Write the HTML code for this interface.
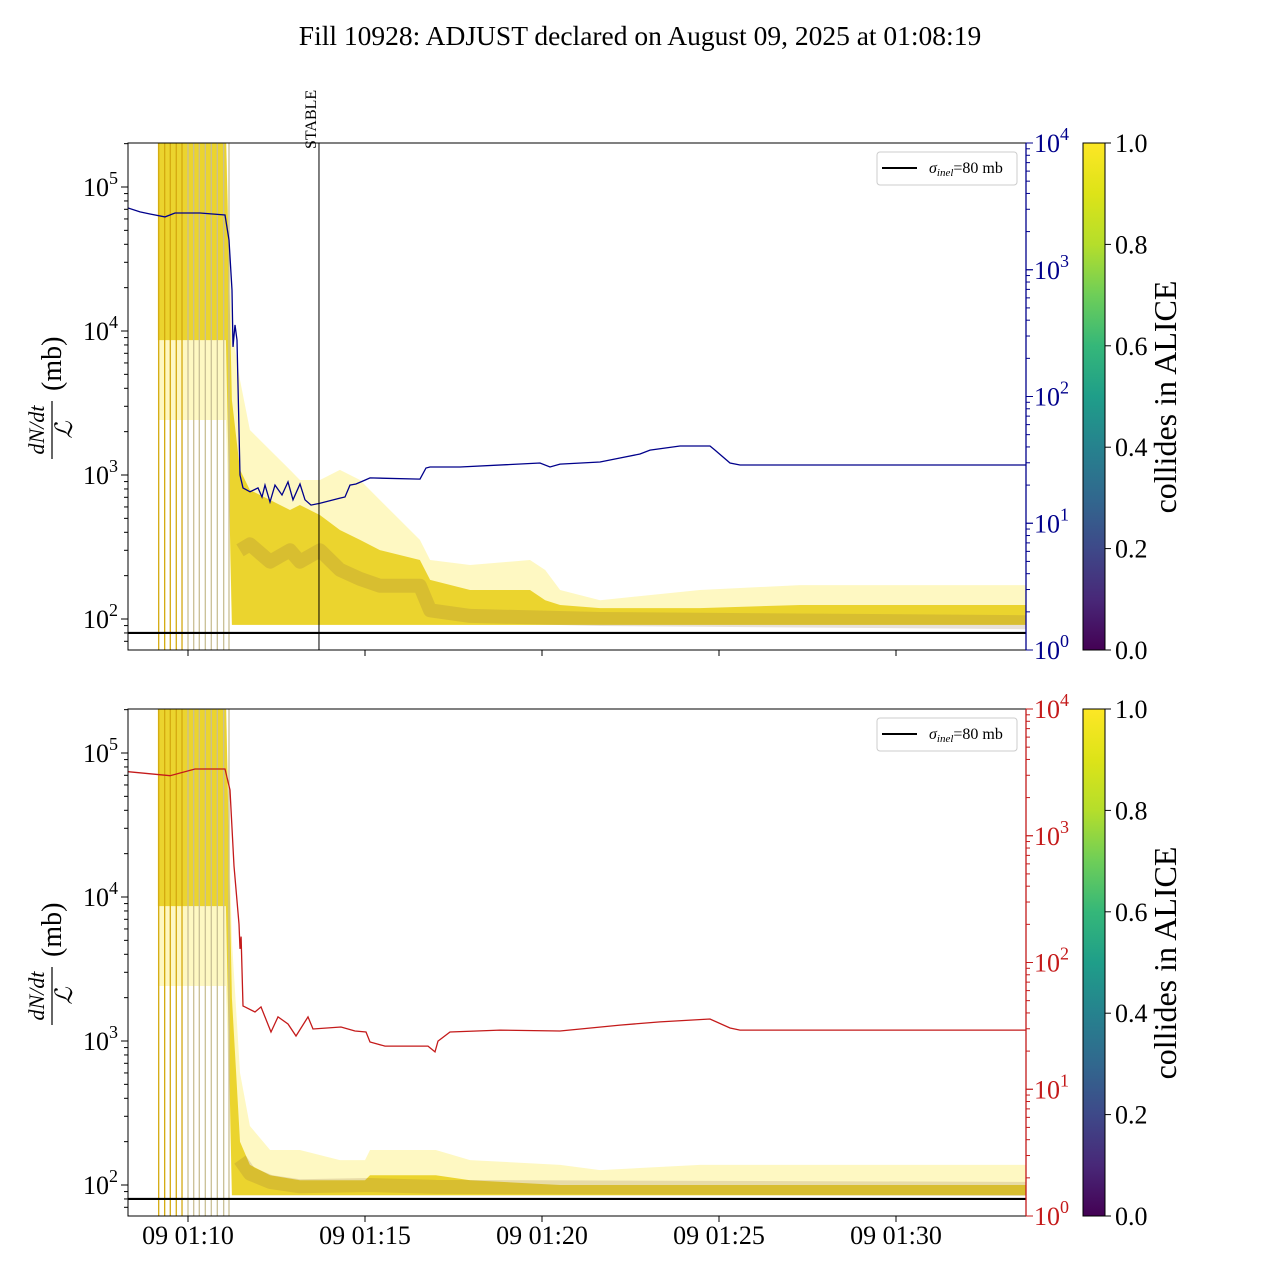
<!DOCTYPE html>
<html><head><meta charset="utf-8"><style>
body{margin:0;background:#fff}
svg{display:block;font-family:"Liberation Serif","DejaVu Serif",serif}
</style></head><body>
<svg id="chart" width="1280" height="1280" viewBox="0 0 1280 1280" xmlns="http://www.w3.org/2000/svg">
<defs>
<linearGradient id="viridis" x1="0" y1="1" x2="0" y2="0">
<stop offset="0" stop-color="#440154"/><stop offset="0.1" stop-color="#482878"/><stop offset="0.2" stop-color="#3e4989"/><stop offset="0.3" stop-color="#31688e"/><stop offset="0.4" stop-color="#26828e"/><stop offset="0.5" stop-color="#1f9e89"/><stop offset="0.6" stop-color="#35b779"/><stop offset="0.7" stop-color="#6ece58"/><stop offset="0.8" stop-color="#b5de2b"/><stop offset="0.9" stop-color="#dde318"/><stop offset="1" stop-color="#fde725"/>
</linearGradient>
<clipPath id="clip0"><rect x="128" y="143" width="898" height="507"/></clipPath>
<clipPath id="clip1"><rect x="128" y="709" width="898" height="507"/></clipPath>
</defs>
<text x="640" y="45" font-size="27.5" text-anchor="middle">Fill 10928: ADJUST declared on August 09, 2025 at 01:08:19</text>
<g id="root"></g>
</svg>
<script>
// ---- data (time = minutes after 01:00) ----
const xTickTimes = [10, 15, 20, 25, 30];
const xTickLabels = ["09 01:10", "09 01:15", "09 01:20", "09 01:25", "09 01:30"];
const leftTickExps = [2, 3, 4, 5];
const rightTickExps = [0, 1, 2, 3, 4];
const cbTicks = [0, 0.2, 0.4, 0.6, 0.8, 1.0];
const cbTickLabels = ["0.0", "0.2", "0.4", "0.6", "0.8", "1.0"];
const sigmaInel = 80;
const stableTime = 13.70;
const bunchLineTimes = [9.172, 9.341, 9.500, 9.669, 9.831, 10.0, 10.161, 10.319, 10.489, 10.658, 10.828, 11.008, 11.158];

// top panel right-axis series (blue)
const blueTimes = [8.305,8.644,8.927,9.350,9.633,10.339,11.045,11.158,11.243,11.271,11.328,11.384,11.469,11.554,11.751,11.977,12.090,12.175,12.316,12.458,12.655,12.825,12.966,13.164,13.305,13.475,13.729,14.294,14.435,14.576,14.746,15.0,15.141,16.554,16.723,16.836,17.684,19.944,20.226,20.508,21.638,22.203,22.768,23.051,23.898,24.746,24.887,25.311,25.593,33.672];
const blueValues = [3070,2860,2755,2610,2805,2805,2705,1718,692,246,367,279,24.0,19.0,17.7,19.0,16.1,20.0,14.7,20.0,16.7,21.2,15.3,20.4,15.3,13.9,14.4,15.8,16.1,20.0,20.4,21.9,22.8,22.3,27.3,27.8,27.8,29.9,27.8,29.3,30.4,32.7,35.2,37.8,40.7,40.7,37.8,29.9,28.8,28.8];

// bottom panel right-axis series (red)
const redTimes = [8.305,9.492,10.198,11.045,11.186,11.299,11.441,11.469,11.500,11.554,11.610,11.893,12.062,12.345,12.542,12.825,13.051,13.390,13.531,14.322,14.718,15.028,15.141,15.565,16.780,16.977,17.062,17.401,18.814,20.508,22.203,23.333,24.746,25.311,25.593,33.672];
const redValues = [3200,2975,3365,3365,2295,577,201,128,160,45.4,44.6,40.7,44.6,28.3,37.2,32.7,26.3,37.2,29.9,31.0,28.8,28.3,23.6,21.9,21.9,19.7,24.0,28.3,29.3,28.8,32.1,34.0,35.8,30.4,29.3,29.3];

// rate-per-luminosity envelopes (left axis), top panel
const topBandTimes = [9.15,11.07,11.24,11.47,11.75,12.32,12.88,13.16,13.73,14.29,14.86,15.42,16.55,16.84,17.97,19.66,20.09,20.51,21.64,24.46,27.29,33.67];
const topUpper   = [250000,250000,10170,4570,2055,1490,1085,923,923,1085,923,670,354,257,237,257,219,159,135,159,172,172];
const topDenseHi = [250000,250000,3320,1085,787,670,571,619,527,415,354,301,257,187,159,159,135,125,119,119,125,125];
const topDenseLo = [8650,8650,91,91,91,91,91,91,91,91,91,91,91,91,91,91,91,91,91,91,91,91];
const topLower   = [2410,2410,91,91,91,91,91,91,91,91,91,91,91,91,91,91,91,91,91,91,91,91];
const topMedianTimes = [11.47,11.75,12.32,12.88,13.16,13.73,14.29,14.86,15.42,16.55,16.84,17.97,21.64,33.67];
const topMedian = [300,330,250,300,250,300,220,190,170,170,115,105,100,95];

// bottom panel
const botBandTimes = [9.15,11.07,11.24,11.47,11.75,12.32,13.16,14.29,15.0,15.14,17.0,17.97,20.51,21.64,24.46,33.67];
const botUpper   = [250000,250000,5000,600,257,175,175,149,149,175,175,149,138,127,138,138];
const botDenseHi = [250000,250000,2000,200,138,117,108,108,108,117,117,108,100,100,100,100];
const botDenseLo = [8650,8650,85,85,85,85,85,85,85,85,85,85,85,85,85,85];
const botLower   = [2410,2410,85,85,85,85,85,85,85,85,85,85,85,85,85,85];
const botMedianTimes = [11.47,11.75,12.32,13.16,15.14,17.0,33.67];
const botMedian = [150,120,105,98,100,97,94];

// ---- drawing ----
const NS = "http://www.w3.org/2000/svg";
const root = document.getElementById("root");
function mk(tag, attrs, parent) {
  const e = document.createElementNS(NS, tag);
  for (const k in attrs) e.setAttribute(k, attrs[k]);
  (parent || root).appendChild(e);
  return e;
}
const xPx = t => 188 + (t - 10) * 35.4;
const X0 = 128, X1 = 1026;

const panels = [
  {top:143, bot:650, rc:"#00008b", times:blueTimes, vals:blueValues,
   bt:topBandTimes, up:topUpper, dh:topDenseHi, dl:topDenseLo, lo:topLower, mt:topMedianTimes, md:topMedian, name:"top"},
  {top:709, bot:1216, rc:"#c41a1a", times:redTimes, vals:redValues,
   bt:botBandTimes, up:botUpper, dh:botDenseHi, dl:botDenseLo, lo:botLower, mt:botMedianTimes, md:botMedian, name:"bottom"}
];

panels.forEach((p, i) => {
  const yL = v => p.top + 44 + (5 - Math.log10(v)) * 144;
  const yR = v => p.top + (4 - Math.log10(v)) * 126.75;
  const g = mk("g", {"clip-path": "url(#clip" + i + ")"});
  
  

  function band(hi, lo, fill, op, name) {
    let d = "";
    p.bt.forEach((t, k) => { d += (k ? "L" : "M") + xPx(t).toFixed(1) + " " + yL(hi[k]).toFixed(1); });
    for (let k = p.bt.length - 1; k >= 0; k--) d += "L" + xPx(p.bt[k]).toFixed(1) + " " + yL(lo[k]).toFixed(1);
    const e = mk("path", {d: d + "Z", fill: fill, "fill-opacity": op}, g);
    
    
  }
  band(p.up, p.lo, "#fde725", 0.28, "faint-rate-envelope");
  band(p.dh, p.dl, "#e9cf1e", 0.9, "dense-rate-band");

  let md = "";
  p.mt.forEach((t, k) => { md += (k ? "L" : "M") + xPx(t).toFixed(1) + " " + yL(p.md[k]).toFixed(1); });
  const med = mk("path", {d: md, fill: "none", stroke: "#8a6a3a", "stroke-opacity": 0.2, "stroke-width": 14, "stroke-linejoin": "round"}, g);
  
  

  bunchLineTimes.forEach((t, k) => {
    const ln = mk("line", {x1: xPx(t), x2: xPx(t), y1: p.top, y2: p.bot, stroke: k < 5 ? "#d4aa10" : "#c9bf95", "stroke-width": 1.3}, g);
    
    
  });

  const sl = mk("line", {x1: X0, x2: X1, y1: yL(sigmaInel), y2: yL(sigmaInel), stroke: "#000", "stroke-width": 2.2}, g);
  
  

  let d = "";
  p.times.forEach((t, k) => { d += (k ? "L" : "M") + xPx(t).toFixed(1) + " " + yR(p.vals[k]).toFixed(1); });
  const rl = mk("path", {d: d, fill: "none", stroke: p.rc, "stroke-width": 1.3}, g);
  
  

  if (i === 0) {
    const st = mk("line", {x1: xPx(stableTime), x2: xPx(stableTime), y1: 143, y2: 650, stroke: "#000", "stroke-width": 1});
    
    
    const stt = mk("text", {transform: "translate(" + (xPx(stableTime) - 3) + ",149) rotate(-90)", "font-size": 16});
    stt.textContent = "STABLE";
    
    
  }

  // frame
  const fr = mk("rect", {x: X0, y: p.top, width: X1 - X0, height: p.bot - p.top, fill: "none", stroke: "#000", "stroke-width": 1});
  
  
  const rs = mk("line", {x1: X1, x2: X1, y1: p.top, y2: p.bot, stroke: p.rc, "stroke-width": 1.3});
  
  

  // left ticks
  for (let e = 1; e <= 5; e++) for (let m = 1; m <= 9; m++) {
    const v = m * Math.pow(10, e); const y = yL(v);
    if (y < p.top || y > p.bot) continue;
    mk("line", {x1: X0, x2: X0 - (m === 1 ? 7 : 4), y1: y, y2: y, stroke: "#000", "stroke-width": 1});
  }
  leftTickExps.forEach(e => {
    const t = mk("text", {x: 118, y: yL(Math.pow(10, e)) + 9, "font-size": 26, "text-anchor": "end"});
    
    
    t.innerHTML = '10<tspan dy="-12" font-size="18">' + e + '</tspan>';
  });
  // right ticks
  for (let e = 0; e <= 3; e++) for (let m = 1; m <= 10; m++) {
    const v = m * Math.pow(10, e); const y = yR(v);
    mk("line", {x1: X1, x2: X1 + (m === 1 || m === 10 ? 7 : 4), y1: y, y2: y, stroke: p.rc, "stroke-width": 1});
  }
  rightTickExps.forEach(e => {
    const t = mk("text", {x: 1034, y: yR(Math.pow(10, e)) + 9, "font-size": 26, fill: p.rc});
    
    
    t.innerHTML = '10<tspan dy="-12" font-size="18">' + e + '</tspan>';
  });
  // x ticks
  xTickTimes.forEach((t, k) => {
    mk("line", {x1: xPx(t), x2: xPx(t), y1: p.bot, y2: p.bot + 6, stroke: "#000", "stroke-width": 1});
    if (i === 1) {
      const tl = mk("text", {x: xPx(t), y: p.bot + 28, "font-size": 26, "text-anchor": "middle"});
      tl.textContent = xTickLabels[k];
      
      
    }
  });

  // y axis title
  const yt = mk("g", {transform: "translate(52," + (p.top + 254) + ") rotate(-90)"});
  
  
  const num = mk("text", {x: -33, y: -8, "font-size": 22, "font-style": "italic", "text-anchor": "middle"}, yt);
  num.textContent = "dN/dt";
  mk("line", {x1: -62, x2: -4, y1: 0, y2: 0, stroke: "#000", "stroke-width": 1.2}, yt);
  const den = mk("text", {x: -33, y: 20, "font-size": 24, "font-style": "italic", "text-anchor": "middle"}, yt);
  den.textContent = "ℒ";
  const mb = mk("text", {x: 6, y: 9, "font-size": 28}, yt);
  mb.textContent = "(mb)";

  // legend
  const lg = mk("g", {});
  
  
  mk("rect", {x: 877, y: p.top + 9, width: 140, height: 33, rx: 3, fill: "#fff", "fill-opacity": 0.85, stroke: "#ccc"}, lg);
  mk("line", {x1: 882, x2: 917, y1: p.top + 25, y2: p.top + 25, stroke: "#000", "stroke-width": 2}, lg);
  const lt = mk("text", {x: 929, y: p.top + 30, "font-size": 16}, lg);
  lt.innerHTML = '<tspan font-style="italic">σ</tspan><tspan font-size="11" dy="3" font-style="italic">inel</tspan><tspan dy="-3">=80 mb</tspan>';

  // colorbar
  const cb = mk("rect", {x: 1083, y: p.top, width: 22, height: p.bot - p.top, fill: "url(#viridis)", stroke: "#000", "stroke-width": 1});
  
  
  cbTicks.forEach((c, k) => {
    const y = p.bot - c * (p.bot - p.top);
    mk("line", {x1: 1105, x2: 1111, y1: y, y2: y, stroke: "#000", "stroke-width": 1});
    const tl = mk("text", {x: 1115, y: y + 9, "font-size": 26});
    tl.textContent = cbTickLabels[k];
    
    
  });
  const cbl = mk("text", {transform: "translate(1176," + (p.top + 254) + ") rotate(-90)", "font-size": 32, "text-anchor": "middle"});
  cbl.textContent = "collides in ALICE";
  
  
});
</script>
</body></html>
